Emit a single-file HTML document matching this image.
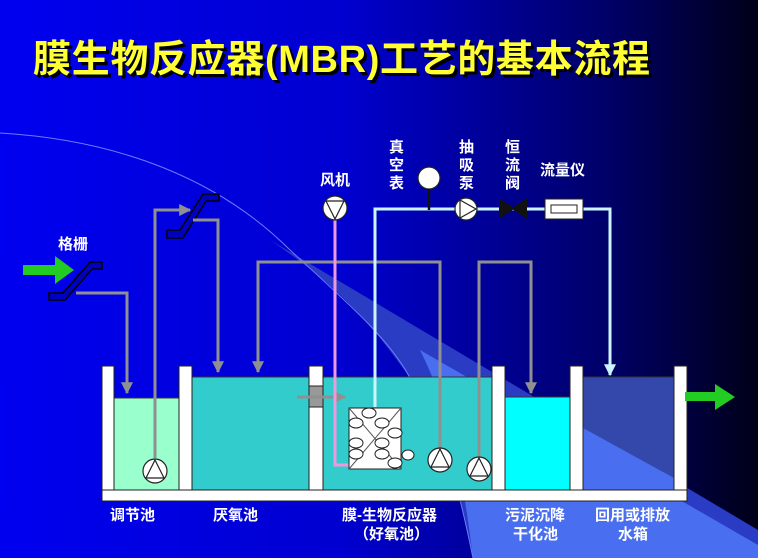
<!DOCTYPE html>
<html><head><meta charset="utf-8"><style>
html,body{margin:0;padding:0;width:758px;height:558px;overflow:hidden;background:#0000c0}
svg{display:block}
text{font-family:"Liberation Sans","Noto Sans CJK SC","WenQuanYi Zen Hei",sans-serif;font-weight:bold;fill:#fff}
</style></head><body>
<svg width="758" height="558" viewBox="0 0 758 558" xmlns="http://www.w3.org/2000/svg">
<defs>
<linearGradient id="bg" x1="0" y1="0" x2="1" y2="0">
<stop offset="0" stop-color="#0000f0"/><stop offset="0.45" stop-color="#0000d0"/><stop offset="0.8" stop-color="#000068"/><stop offset="1" stop-color="#000018"/>
</linearGradient>
<marker id="ag" viewBox="0 0 10 10" refX="9" refY="5" markerWidth="4" markerHeight="4" orient="auto"><path d="M0,0L10,5L0,10z" fill="#909090"/></marker>
<marker id="ac" viewBox="0 0 10 10" refX="9" refY="5" markerWidth="4" markerHeight="4" orient="auto"><path d="M0,0L10,5L0,10z" fill="#ccf4ff"/></marker>
</defs>
<rect width="758" height="558" fill="url(#bg)"/>
<path d="M270,240 L758,530 L758,558 L473,558 C455,470 440,420 410,378 C370,320 330,280 270,240Z" fill="#2a3cc4"/>
<path d="M420,350 L758,545 L758,558 L473,558 C462,470 450,410 420,350Z" fill="#4a6ef0"/>
<path d="M0,133 C120,140 220,180 290,250 C350,305 390,340 410,378 C440,420 455,470 473,558" fill="none" stroke="#6a7cff" stroke-width="1"/>
<text x="36" y="75" font-size="38" style="fill:#000" textLength="617">膜生物反应器(MBR)工艺的基本流程</text>
<text x="33" y="72" font-size="38" style="fill:#ffff33" textLength="617">膜生物反应器(MBR)工艺的基本流程</text>
<!-- tanks -->
<rect x="114" y="398" width="65" height="92" fill="#99ffcc" stroke="#333" stroke-width="1"/>
<rect x="192" y="377" width="117" height="113" fill="#33cccc" stroke="#333" stroke-width="1"/>
<rect x="322" y="377" width="170" height="113" fill="#33cccc" stroke="#333" stroke-width="1"/>
<rect x="505" y="397" width="65" height="93" fill="#00ffff" stroke="#333" stroke-width="1"/>
<rect x="583" y="377" width="91" height="113" fill="#3348aa" stroke="#333" stroke-width="1"/>
<path d="M583,428 L674,478 L674,490 L583,490Z" fill="#4a6ef0"/>
<g fill="#fff" stroke="#222" stroke-width="1">
<rect x="102" y="366" width="12" height="124"/><rect x="179" y="366" width="13" height="124"/>
<rect x="309" y="366" width="14" height="124"/><rect x="492" y="366" width="13" height="124"/>
<rect x="570" y="366" width="13" height="124"/><rect x="674" y="366" width="13" height="124"/>
<rect x="102" y="490" width="585" height="11"/>
</g>
<rect x="309" y="386" width="14" height="21" fill="#999" stroke="#222"/>
<line x1="297" y1="397" x2="345" y2="397" stroke="#909090" stroke-width="3" marker-end="url(#ag)"/>
<!-- arrows green -->
<path d="M23,265 H55 V256 L74,270 L55,284 V275 H23Z" fill="#22cc22"/>
<path d="M685,392 H715 V384 L735,397 L715,410 V401 H685Z" fill="#22cc22"/>
<!-- grates -->
<g fill="#0000c0" stroke="#000" stroke-width="1.5">
<path d="M49,293 L63,293 L90,262 L102,262 L102,269 L92,269 L65,300 L49,300Z"/>
<path d="M167,230 L180,230 L203,194 L219,194 L219,201 L206,201 L183,238 L167,238Z"/>
</g>
<text x="58" y="249" font-size="15">格栅</text>
<!-- gray lines -->
<g fill="none" stroke="#909090" stroke-width="3">
<path d="M76,293 H127 V393" marker-end="url(#ag)"/>
<path d="M155,458 V210 H190" marker-end="url(#ag)"/>
<path d="M193,220 H218 V372" marker-end="url(#ag)"/>
<path d="M440,450 V262 H258 V372" marker-end="url(#ag)"/>
<path d="M479,458 V262 H531 V393" marker-end="url(#ag)"/>
</g>
<!-- pink air -->
<path d="M335,220 V465 H388" fill="none" stroke="#ee99dd" stroke-width="3"/>
<!-- cyan permeate -->
<path d="M375,407 V209 H610 V375" fill="none" stroke="#ccf4ff" stroke-width="3" marker-end="url(#ac)"/>
<!-- membrane module -->
<rect x="349" y="408" width="52" height="61" fill="#fff" stroke="#222"/>
<path d="M349,408 L401,469 M349,469 L401,408" stroke="#555" stroke-width="1"/>
<g fill="#fff" stroke="#222">
<ellipse cx="369" cy="413" rx="7" ry="5"/><ellipse cx="356" cy="423" rx="7" ry="5"/><ellipse cx="382" cy="423" rx="7" ry="5"/>
<ellipse cx="395" cy="433" rx="7" ry="5"/><ellipse cx="356" cy="443" rx="7" ry="5"/><ellipse cx="382" cy="443" rx="7" ry="5"/>
<ellipse cx="356" cy="454" rx="7" ry="5"/><ellipse cx="382" cy="454" rx="7" ry="5"/><ellipse cx="395" cy="463" rx="7" ry="5"/>
<ellipse cx="408" cy="455" rx="6" ry="5"/>
</g>
<!-- pumps -->
<g fill="#fff" stroke="#222" stroke-width="1.2">
<circle cx="155" cy="471" r="12"/><path d="M146,478 L155,460 L164,478Z"/>
<circle cx="440" cy="460" r="12"/><path d="M431,467 L440,449 L449,467Z"/>
<circle cx="479" cy="469" r="12"/><path d="M470,476 L479,458 L488,476Z"/>
<circle cx="335" cy="208" r="12"/><path d="M326,201 L335,219 L344,201Z"/>
<circle cx="466" cy="209" r="11"/><path d="M460,200 L476,209 L460,218Z"/>
<circle cx="429" cy="178" r="11"/>
</g>
<line x1="429" y1="189" x2="429" y2="210" stroke="#111" stroke-width="2.5"/>
<path d="M500,200 L526,217 L526,200 L500,217Z" fill="#111" stroke="#111" stroke-width="2"/>
<rect x="545" y="199" width="38" height="20" fill="#fff" stroke="#222"/>
<rect x="551" y="205" width="26" height="8" fill="#fff" stroke="#222"/>
<!-- labels -->
<text x="320" y="185" font-size="15">风机</text>
<g font-size="15">
<text x="389" y="152">真</text><text x="389" y="170">空</text><text x="389" y="188">表</text>
<text x="459" y="152">抽</text><text x="459" y="170">吸</text><text x="459" y="188">泵</text>
<text x="505" y="152">恒</text><text x="505" y="170">流</text><text x="505" y="188">阀</text>
<text x="540" y="175">流量仪</text>
<text x="110" y="520">调节池</text>
<text x="213" y="520">厌氧池</text>
<text x="342" y="520">膜-生物反应器</text>
<text x="354" y="539">（好氧池）</text>
<text x="505" y="520">污泥沉降</text>
<text x="513" y="539">干化池</text>
<text x="595" y="520">回用或排放</text>
<text x="618" y="539">水箱</text>
</g>
</svg>
</body></html>
